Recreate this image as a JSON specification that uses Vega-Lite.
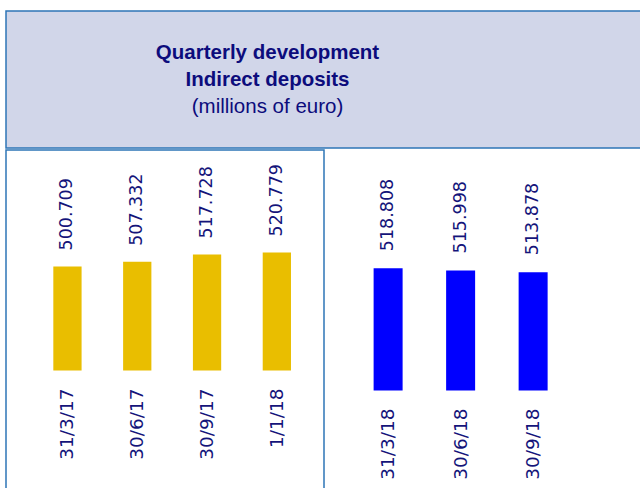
{
  "$schema": "https://vega.github.io/schema/vega-lite/v6.json",
  "padding": {"left": 5, "top": 10, "right": 0, "bottom": 0},
  "background": "white",
  "spacing": 0,
  "config": {"view": {"stroke": null}, "concat": {"spacing": 0}},
  "datasets": {
    "title": [
      {"line": 1, "text": "Quarterly development", "bold": true},
      {"line": 2, "text": "Indirect deposits", "bold": true},
      {"line": 3, "text": "(millions of euro)", "bold": false}
    ],
    "d2017": [
      {"date": "31/3/17", "value": 500.709},
      {"date": "30/6/17", "value": 507.332},
      {"date": "30/9/17", "value": 517.728},
      {"date": "1/1/18", "value": 520.779}
    ],
    "d2018": [
      {"date": "31/3/18", "value": 518.808},
      {"date": "30/6/18", "value": 515.998},
      {"date": "30/9/18", "value": 513.878}
    ]
  },
  "vconcat": [
    {
      "width": 635,
      "height": 137,
      "view": {"fill": "#D1D6E9", "stroke": "#2E75B6", "strokeWidth": 1.5},
      "data": {"name": "title"},
      "encoding": {
        "y": {"field": "line", "type": "ordinal", "scale": {"type": "point", "domain": [1, 2, 3], "range": [48, 102], "padding": 0}, "axis": null},
        "text": {"field": "text"}
      },
      "layer": [
        {
          "transform": [{"filter": "datum.bold"}],
          "mark": {"type": "text", "font": "Liberation Sans", "fontSize": 20.5, "fontWeight": "bold", "color": "#0c0c7c", "dx": -56, "baseline": "alphabetic", "align": "center"}
        },
        {
          "transform": [{"filter": "!datum.bold"}],
          "mark": {"type": "text", "font": "Liberation Sans", "fontSize": 20.5, "fontWeight": "normal", "color": "#0c0c7c", "dx": -56, "baseline": "alphabetic", "align": "center"}
        }
      ]
    },
    {
      "spacing": 0,
      "hconcat": [
        {
          "width": 318,
          "height": 341,
          "view": {"stroke": "#2E75B6", "strokeWidth": 1.5},
          "data": {"name": "d2017"},
          "encoding": {
            "x": {"field": "date", "type": "nominal", "sort": null, "scale": {"paddingInner": 0.595, "paddingOuter": 0.5755, "align": 0.589}, "axis": null}
          },
          "layer": [
            {
              "mark": {"type": "bar", "color": "#E9BE00"},
              "encoding": {
                "y": {"field": "value", "type": "quantitative", "scale": {"domain": [180.0, 667.1], "nice": false, "zero": false}, "axis": null},
                "y2": {"datum": 352.1}
              }
            },
            {
              "mark": {"type": "text", "angle": 270, "align": "left", "baseline": "middle", "dx": 16, "font": "DejaVu Sans", "fontSize": 17.5, "color": "#14147a"},
              "encoding": {
                "y": {"field": "value", "type": "quantitative"},
                "text": {"field": "value", "type": "quantitative", "format": ".3f"}
              }
            },
            {
              "mark": {"type": "text", "angle": 270, "align": "right", "baseline": "middle", "dx": -18, "font": "DejaVu Sans", "fontSize": 18.5, "color": "#14147a"},
              "encoding": {
                "y": {"datum": 352.1},
                "text": {"field": "date"}
              }
            }
          ]
        },
        {
          "width": 317,
          "height": 341,
          "data": {"name": "d2018"},
          "encoding": {
            "x": {"field": "date", "type": "nominal", "sort": null, "scale": {"paddingInner": 0.6, "paddingOuter": 0.986, "align": 0.34}, "axis": null}
          },
          "layer": [
            {
              "mark": {"type": "bar", "color": "#0000FF"},
              "encoding": {
                "y": {"field": "value", "type": "quantitative", "scale": {"domain": [243.7, 664.7], "nice": false, "zero": false}, "axis": null},
                "y2": {"datum": 367.8}
              }
            },
            {
              "mark": {"type": "text", "angle": 270, "align": "left", "baseline": "middle", "dx": 17, "font": "DejaVu Sans", "fontSize": 17.5, "color": "#14147a"},
              "encoding": {
                "y": {"field": "value", "type": "quantitative"},
                "text": {"field": "value", "type": "quantitative", "format": ".3f"}
              }
            },
            {
              "mark": {"type": "text", "angle": 270, "align": "right", "baseline": "middle", "dx": -18, "font": "DejaVu Sans", "fontSize": 18.5, "color": "#14147a"},
              "encoding": {
                "y": {"datum": 367.8},
                "text": {"field": "date"}
              }
            }
          ]
        }
      ]
    }
  ]
}
